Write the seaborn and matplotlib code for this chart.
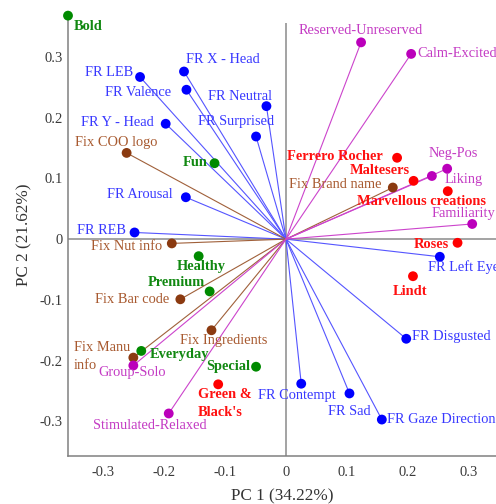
import matplotlib
matplotlib.use("Agg")
import matplotlib.pyplot as plt
import seaborn as sns
import pandas as pd

# ---------------- data ----------------
face_names = ["FR LEB", "FR X - Head", "FR Valence", "FR Y - Head", "FR Arousal", "FR REB",
              "FR Neutral", "FR Surprised", "FR Left Eye", "FR Disgusted", "FR Contempt",
              "FR Sad", "FR Gaze Direction"]
face_pc1 = [-0.239, -0.167, -0.163, -0.197, -0.164, -0.248, -0.032, -0.049, 0.252, 0.197, 0.025, 0.104, 0.157]
face_pc2 = [0.267, 0.276, 0.246, 0.190, 0.069, 0.011, 0.219, 0.169, -0.029, -0.164, -0.238, -0.254, -0.297]

fix_names = ["Fix COO logo", "Fix Nut info", "Fix Brand name", "Fix Bar code", "Fix Ingredients", "Fix Manu\ninfo"]
fix_pc1 = [-0.261, -0.187, 0.175, -0.173, -0.122, -0.250]
fix_pc2 = [0.142, -0.007, 0.085, -0.099, -0.150, -0.195]

scale_names = ["Reserved-Unreserved", "Calm-Excited", "Neg-Pos", "Liking", "Familiarity",
               "Group-Solo", "Stimulated-Relaxed"]
scale_pc1 = [0.123, 0.205, 0.264, 0.239, 0.305, -0.250, -0.192]
scale_pc2 = [0.324, 0.305, 0.116, 0.104, 0.025, -0.208, -0.287]

attr_names = ["Bold", "Fun", "Healthy", "Premium", "Everyday", "Special"]
attr_pc1 = [-0.357, -0.117, -0.143, -0.125, -0.237, -0.049]
attr_pc2 = [0.368, 0.125, -0.028, -0.086, -0.184, -0.210]

brand_names = ["Ferrero Rocher", "Maltesers", "Marvellous creations", "Roses", "Lindt", "Green &\nBlack's"]
brand_pc1 = [0.182, 0.209, 0.265, 0.281, 0.208, -0.111]
brand_pc2 = [0.134, 0.096, 0.079, -0.006, -0.061, -0.239]

x_label = "PC 1 (34.22%)"
y_label = "PC 2 (21.62%)"
tick_vals = [-0.3, -0.2, -0.1, 0, 0.1, 0.2, 0.3]
tick_labels = ["-0.3", "-0.2", "-0.1", "0", "0.1", "0.2", "0.3"]

# ---------------- styles ----------------
marker_col = {"face": "#0000ff", "fix": "#8b3a10", "scale": "#bb00bb", "attr": "#008a00", "brand": "#ff0000"}
line_col = {"face": "#5555ff", "fix": "#a0603a", "scale": "#cc44cc"}
text_col = {"face": "#3838ff", "fix": "#a85a30", "scale": "#c43cc4", "attr": "#118811", "brand": "#ff1010"}

# label offsets in pixels (dx, dy up) and alignment
label_pos = {
    "FR LEB": (-7, 4, "right"), "FR X - Head": (2, 12, "left"), "FR Valence": (-15, -3, "right"),
    "FR Y - Head": (-12, 1, "right"), "FR Arousal": (-13, 3, "right"), "FR REB": (-9, 2, "right"),
    "FR Neutral": (6, 10, "right"), "FR Surprised": (18, 15, "right"), "FR Left Eye": (-12, -10, "left"),
    "FR Disgusted": (6, 2, "left"), "FR Contempt": (-4, -12, "center"), "FR Sad": (0, -18, "center"),
    "FR Gaze Direction": (5, 0, "left"),
    "Fix COO logo": (-10, 10, "center"), "Fix Nut info": (-10, -3, "right"), "Fix Brand name": (-11, 3, "right"),
    "Fix Bar code": (-11, 0, "right"), "Fix Ingredients": (12, -10, "center"), "Fix Manu\ninfo": (-3, 1, "right"),
    "Reserved-Unreserved": (0, 12, "center"), "Calm-Excited": (6, 0, "left"), "Neg-Pos": (6, 15, "center"),
    "Liking": (13, -4, "left"), "Familiarity": (-9, 10, "center"), "Group-Solo": (-1, -7, "center"),
    "Stimulated-Relaxed": (-19, -12, "center"),
    "Bold": (6, -11, "left"), "Fun": (-7, 1, "right"), "Healthy": (3, -10, "center"),
    "Premium": (-5, 9, "right"), "Everyday": (8, -4, "left"), "Special": (-6, 0, "right"),
    "Ferrero Rocher": (-14, 1, "right"), "Maltesers": (-4, 10, "right"), "Marvellous creations": (-26, -10, "center"),
    "Roses": (-9, -2, "right"), "Lindt": (-3, -15, "center"), "Green &\nBlack's": (-20, -19, "left"),
}

# ---------------- build frame ----------------
rows = []
for grp, names, xs, ys in [("face", face_names, face_pc1, face_pc2), ("fix", fix_names, fix_pc1, fix_pc2),
                           ("scale", scale_names, scale_pc1, scale_pc2), ("attr", attr_names, attr_pc1, attr_pc2),
                           ("brand", brand_names, brand_pc1, brand_pc2)]:
    for n, x, y in zip(names, xs, ys):
        rows.append({"name": n, "pc1": x, "pc2": y, "group": grp})
df = pd.DataFrame(rows)

sns.set_style("white")
plt.rcParams["font.family"] = ["Liberation Serif", "DejaVu Serif"]
plt.rcParams["axes.unicode_minus"] = False

fig = plt.figure(figsize=(4.96, 5.04), dpi=100)
xlim = (-0.357, 0.344)
ylim = (-0.357, 0.372)
ax = fig.add_axes([68 / 496, 48 / 504, 428 / 496, (456 - 13.2) / 504])
ax.set_xlim(*xlim)
ax.set_ylim(*ylim)

# zero reference lines
ax.axhline(0, color="#8a8a8a", lw=1.1, zorder=1)
ax.vlines(0, ylim[0], 0.356, color="#8a8a8a", lw=1.1, zorder=1)

# vectors from origin
for _, r in df[df.group.isin(["face", "fix", "scale"])].iterrows():
    ax.plot([0, r.pc1], [0, r.pc2], color=line_col[r.group], lw=0.8, zorder=2)

sns.scatterplot(data=df, x="pc1", y="pc2", hue="group", palette=marker_col, s=50,
                linewidth=0, legend=False, ax=ax, zorder=4, clip_on=False)

for _, r in df.iterrows():
    dx, dy, ha = label_pos[r["name"]]
    bold = r.group in ("attr", "brand")
    ax.annotate(r["name"], (r.pc1, r.pc2), xytext=(dx, dy), textcoords="offset pixels",
                ha=ha, va="center", multialignment="left", color=text_col[r.group],
                fontsize=10.4, fontweight="bold" if bold else "normal",
                linespacing=1.45, zorder=5, annotation_clip=False)

for s in ["top", "right"]:
    ax.spines[s].set_visible(False)
for s in ["left", "bottom"]:
    ax.spines[s].set_color("#808080")
    ax.spines[s].set_linewidth(1.1)

ax.set_xticks(tick_vals)
ax.set_xticklabels(tick_labels)
ax.set_yticks(tick_vals)
ax.set_yticklabels(tick_labels)
ax.tick_params(axis="both", direction="in", length=3.5, width=0.8, color="#808080",
               labelsize=10.5, labelcolor="#3a3a3a")
ax.tick_params(axis="x", pad=7)
ax.tick_params(axis="y", pad=4)
ax.set_xlabel(x_label, fontsize=12.3, color="#333333", labelpad=7)
ax.set_ylabel(y_label, fontsize=12.3, color="#333333", labelpad=5)

fig.savefig("out.png", dpi=100)
